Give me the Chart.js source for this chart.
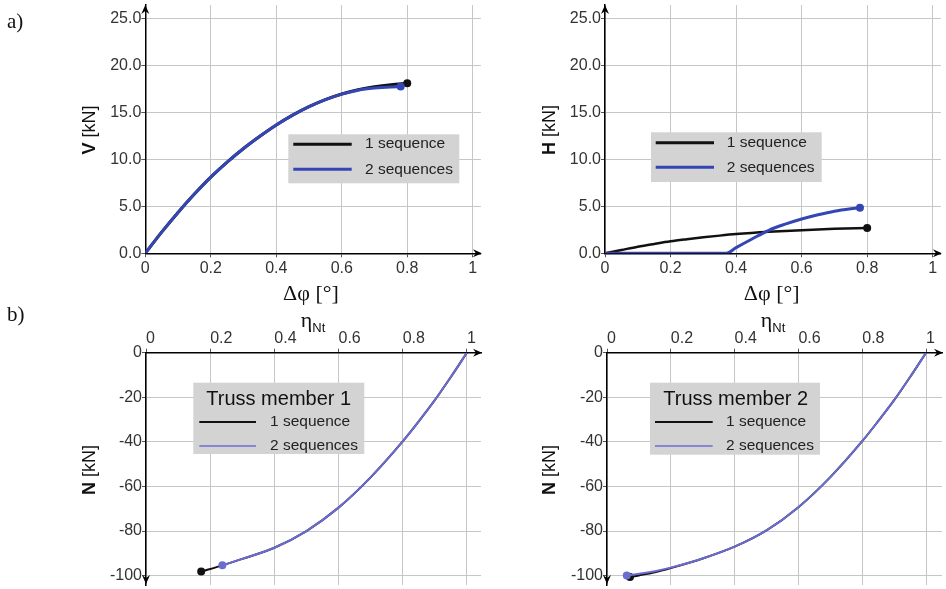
<!DOCTYPE html>
<html>
<head>
<meta charset="utf-8">
<title>Truss joint response</title>
<script src="https://cdn.jsdelivr.net/npm/chart.js"></script>
<style>
  body { margin: 0; background: #fff; width: 946px; height: 589px; position: relative; overflow: hidden; }
  canvas { position: absolute; }
</style>
</head>
<body>
<canvas id="chartV" width="486" height="310" style="left:0;top:0"></canvas>
<canvas id="chartH" width="460" height="310" style="left:486px;top:0"></canvas>
<canvas id="chartN1" width="486" height="289" style="left:0;top:300px"></canvas>
<canvas id="chartN2" width="460" height="289" style="left:486px;top:300px"></canvas>
<script>
// tick labels
var rotTicks = [0, 0.2, 0.4, 0.6, 0.8, 1];
var forceTicks = [0, 5, 10, 15, 20, 25];
var axialTicks = [0, -20, -40, -60, -80, -100];

// a) vertical reaction V vs rotation
var phiV1 = [0, 0.05, 0.1, 0.15, 0.2, 0.25, 0.3, 0.35, 0.4, 0.45, 0.5, 0.55, 0.6, 0.65, 0.7, 0.75, 0.8];
var vSeq1 = [0, 2.25, 4.35, 6.3, 8.1, 9.7, 11.15, 12.45, 13.65, 14.7, 15.6, 16.35, 16.95, 17.4, 17.72, 17.94, 18.08];
var phiV2 = [0, 0.05, 0.1, 0.15, 0.2, 0.25, 0.3, 0.35, 0.4, 0.45, 0.5, 0.55, 0.6, 0.65, 0.7, 0.75, 0.78];
var vSeq2 = [0, 2.25, 4.35, 6.3, 8.1, 9.7, 11.15, 12.45, 13.65, 14.7, 15.6, 16.35, 16.93, 17.35, 17.58, 17.7, 17.73];

// a) horizontal reaction H vs rotation
var phiH1 = [0, 0.05, 0.1, 0.15, 0.2, 0.25, 0.3, 0.35, 0.4, 0.5, 0.6, 0.7, 0.8];
var hSeq1 = [0, 0.35, 0.7, 1.0, 1.28, 1.5, 1.7, 1.88, 2.04, 2.28, 2.46, 2.6, 2.7];
var phiH2 = [0, 0.1, 0.2, 0.3, 0.37, 0.4, 0.45, 0.5, 0.55, 0.6, 0.65, 0.7, 0.75, 0.778];
var hSeq2 = [0, 0, 0, 0, 0, 0.6, 1.55, 2.45, 3.1, 3.65, 4.1, 4.48, 4.74, 4.85];

// b) axial force in truss member 1 vs utilisation
var etaA1 = [0.172, 0.238, 0.3, 0.4, 0.5, 0.6, 0.7, 0.8, 0.85, 0.9, 0.95, 1];
var nA1 = [-98.2, -95.4, -92.5, -87.5, -80, -69.5, -55.9, -39.8, -30.8, -21.3, -10.9, 0];
var etaA2 = [0.238, 0.3, 0.4, 0.5, 0.6, 0.7, 0.8, 0.85, 0.9, 0.95, 1];
var nA2 = [-95.3, -92.5, -87.5, -80, -69.5, -55.9, -39.8, -30.8, -21.3, -10.9, 0];

// b) axial force in truss member 2 vs utilisation
var etaB1 = [0.072, 0.1, 0.15, 0.2, 0.3, 0.4, 0.5, 0.6, 0.7, 0.8, 0.85, 0.9, 0.95, 1];
var nB1 = [-100.6, -99.9, -98.5, -96.6, -92.3, -87, -79.7, -69.3, -55.8, -39.7, -30.7, -21.3, -10.9, 0];
var etaB2 = [0.062, 0.1, 0.15, 0.2, 0.3, 0.4, 0.5, 0.6, 0.7, 0.8, 0.85, 0.9, 0.95, 1];
var nB2 = [-99.9, -99.2, -98, -96.4, -92.3, -87, -79.7, -69.3, -55.8, -39.7, -30.7, -21.3, -10.9, 0];

var seriesNames = ['1 sequence', '2 sequences'];

var SANS = '"Liberation Sans", Arial, sans-serif';
var SERIF = '"Liberation Serif", "Times New Roman", serif';
var GRID = '#c6c6c6';

function pairs(xs, ys) {
  return xs.map(function (x, i) { return { x: x, y: ys[i] }; });
}

function arrow(ctx, x, y, dir) {
  // dir: 'up', 'down', 'right'
  var L = 9, W = 4;
  ctx.beginPath();
  if (dir === 'up') {
    ctx.moveTo(x, y); ctx.lineTo(x - W, y + L); ctx.lineTo(x, y + L - 3); ctx.lineTo(x + W, y + L);
  } else if (dir === 'down') {
    ctx.moveTo(x, y); ctx.lineTo(x - W, y - L); ctx.lineTo(x, y - L + 3); ctx.lineTo(x + W, y - L);
  } else {
    ctx.moveTo(x, y); ctx.lineTo(x - L, y - W); ctx.lineTo(x - L + 3, y); ctx.lineTo(x - L, y + W);
  }
  ctx.closePath();
  ctx.fill();
}

// arrows, legend box, axis titles and panel letters
var decorations = {
  id: 'decorations',
  afterDraw: function (chart, args, o) {
    var ctx = chart.ctx, a = chart.chartArea;
    ctx.save();
    ctx.fillStyle = '#000';
    if (o.xOnTop) {
      arrow(ctx, a.right + 1, a.top, 'right');
      arrow(ctx, a.left, a.bottom - 1, 'down');
    } else {
      arrow(ctx, a.right + 1, a.bottom, 'right');
      arrow(ctx, a.left, a.top, 'up');
    }

    // legend
    var lg = o.legend;
    ctx.fillStyle = '#d3d3d3';
    ctx.fillRect(lg.x, lg.y, lg.w, lg.h);
    if (lg.title) {
      ctx.fillStyle = '#111';
      ctx.font = '20px ' + SANS;
      ctx.textAlign = 'center';
      ctx.textBaseline = 'middle';
      ctx.fillText(lg.title, lg.titleX, lg.titleY);
    }
    chart.data.datasets.forEach(function (ds, i) {
      var y = lg.rows[i];
      ctx.strokeStyle = ds.borderColor;
      ctx.lineWidth = lg.widths[i];
      ctx.beginPath();
      ctx.moveTo(lg.x0, y);
      ctx.lineTo(lg.x1, y);
      ctx.stroke();
      ctx.fillStyle = '#222';
      ctx.font = '15.5px ' + SANS;
      ctx.textAlign = 'left';
      ctx.textBaseline = 'middle';
      ctx.fillText(ds.label, lg.textX, y);
    });

    // y title: bold symbol followed by unit
    var yt = o.yTitle;
    ctx.translate(yt.x, yt.y);
    ctx.rotate(-Math.PI / 2);
    ctx.fillStyle = '#111';
    ctx.textBaseline = 'middle';
    ctx.textAlign = 'left';
    ctx.font = 'bold 18px ' + SANS;
    var w1 = ctx.measureText(yt.sym).width;
    ctx.font = '18px ' + SANS;
    var w2 = ctx.measureText(' [kN]').width;
    var sx = -(w1 + w2) / 2;
    ctx.font = 'bold 18px ' + SANS;
    ctx.fillText(yt.sym, sx, 0);
    ctx.font = '18px ' + SANS;
    ctx.fillText(' [kN]', sx + w1, 0);
    ctx.setTransform(1, 0, 0, 1, 0, 0);

    // x title
    var xt = o.xTitle;
    ctx.fillStyle = '#111';
    ctx.textBaseline = 'alphabetic';
    if (xt.sub) {
      ctx.font = '22px ' + SERIF;
      var we = ctx.measureText(xt.text).width;
      ctx.font = '13px ' + SANS;
      var ws = ctx.measureText(xt.sub).width;
      var bx = xt.x - (we + ws) / 2;
      ctx.font = '22px ' + SERIF;
      ctx.textAlign = 'left';
      ctx.fillText(xt.text, bx, xt.y);
      ctx.font = '13px ' + SANS;
      ctx.fillText(xt.sub, bx + we, xt.y + 5);
    } else {
      ctx.font = '22px ' + SERIF;
      ctx.textAlign = 'center';
      ctx.fillText(xt.text, xt.x, xt.y);
    }

    if (o.letter) {
      ctx.font = '21px ' + SERIF;
      ctx.textAlign = 'left';
      ctx.fillText(o.letter.text, o.letter.x, o.letter.y);
    }
    ctx.restore();
  }
};

function fixedTicks(values) {
  return function (scale) {
    scale.ticks = values.map(function (v) { return { value: v }; });
  };
}

function makePanel(id, p) {
  var onTop = !!p.deco.xOnTop;
  var dotAt = function (ctx) {
    var n = ctx.dataset.data.length;
    var idx = onTop ? 0 : n - 1;
    return ctx.dataIndex === idx ? p.dotR : 0;
  };
  var tickFont = { family: SANS, size: 16 };
  return new Chart(document.getElementById(id), {
    type: 'line',
    data: {
      datasets: [
        {
          label: seriesNames[0], data: pairs(p.x1, p.y1),
          borderColor: '#111', backgroundColor: '#111', borderWidth: p.w[0],
          cubicInterpolationMode: 'monotone', pointRadius: dotAt, pointBorderWidth: 0, order: 2
        },
        {
          label: seriesNames[1], data: pairs(p.x2, p.y2),
          borderColor: p.blue, backgroundColor: p.blue, borderWidth: p.w[1],
          cubicInterpolationMode: 'monotone', pointRadius: dotAt, pointBorderWidth: 0, order: 1
        }
      ]
    },
    options: {
      responsive: false,
      animation: false,
      events: [],
      layout: { padding: p.pad },
      scales: {
        x: {
          type: 'linear', position: onTop ? 'top' : 'bottom',
          min: 0, max: p.xMax,
          afterBuildTicks: fixedTicks(rotTicks),
          afterFit: function (s) { s.height = 30; s.paddingLeft = 0; s.paddingRight = 0; },
          grid: { color: GRID, tickLength: 4, tickColor: '#555' },
          border: { color: '#000', width: 1.5 },
          ticks: {
            font: tickFont, color: '#333', padding: onTop ? 1 : 2,
            align: onTop ? 'start' : 'center', maxRotation: 0, autoSkip: false,
            callback: function (v) { return String(v); }
          }
        },
        y: {
          type: 'linear', min: p.yMin, max: p.yMax,
          afterBuildTicks: fixedTicks(p.yTicks),
          afterFit: function (s) { s.width = 80; s.paddingTop = 0; s.paddingBottom = 0; },
          grid: { color: GRID, tickLength: 4, tickColor: '#555' },
          border: { color: '#000', width: 1.5 },
          ticks: {
            font: tickFont, color: '#333', padding: 0, autoSkip: false,
            callback: p.yFmt
          }
        }
      },
      plugins: {
        legend: { display: false },
        tooltip: { enabled: false },
        decorations: p.deco
      }
    },
    plugins: [decorations]
  });
}

var oneDecimal = function (v) { return v.toFixed(1); };
var plain = function (v) { return String(v); };

makePanel('chartV', {
  x1: phiV1, y1: vSeq1, x2: phiV2, y2: vSeq2,
  blue: '#3446b4', w: [3, 3], dotR: 4,
  xMax: 1.025, yMin: 0, yMax: 26.4, yTicks: forceTicks, yFmt: oneDecimal,
  pad: { left: 65.3, right: 5.1, top: 5.1, bottom: 26.7 },
  deco: {
    xOnTop: false,
    legend: { x: 288.3, y: 134.3, w: 171, h: 49, x0: 293.3, x1: 351.7, rows: [144.2, 169.3], widths: [3, 3], textX: 365 },
    yTitle: { sym: 'V', x: 90, y: 130 },
    xTitle: { text: '\u0394\u03c6 [\u00b0]', x: 311, y: 300 },
    letter: { text: 'a)', x: 7, y: 28 }
  }
});

makePanel('chartH', {
  x1: phiH1, y1: hSeq1, x2: phiH2, y2: hSeq2,
  blue: '#3446b4', w: [2.5, 3], dotR: 4,
  xMax: 1.025, yMin: 0, yMax: 26.4, yTicks: forceTicks, yFmt: oneDecimal,
  pad: { left: 39, right: 5.1, top: 5.1, bottom: 26.7 },
  deco: {
    xOnTop: false,
    legend: { x: 165, y: 132.3, w: 170.7, h: 49.7, x0: 169.7, x1: 228, rows: [142.7, 167.3], widths: [3, 3], textX: 240.7 },
    yTitle: { sym: 'H', x: 64, y: 130 },
    xTitle: { text: '\u0394\u03c6 [\u00b0]', x: 285.7, y: 300 }
  }
});

makePanel('chartN1', {
  x1: etaA1, y1: nA1, x2: etaA2, y2: nA2,
  blue: '#6c6cd0', w: [2, 2], dotR: 4,
  xMax: 1.044, yMin: -104.2, yMax: 0, yTicks: axialTicks, yFmt: plain,
  pad: { left: 66, right: 5, top: 22.7, bottom: 1 },
  deco: {
    xOnTop: true,
    legend: { x: 193.3, y: 82.7, w: 171, h: 71.3, title: 'Truss member 1', titleX: 278.7, titleY: 99, x0: 199.3, x1: 256, rows: [122, 146], widths: [2, 1.5], textX: 270 },
    yTitle: { sym: 'N', x: 90, y: 170 },
    xTitle: { text: '\u03b7', sub: 'Nt', x: 313, y: 27 },
    letter: { text: 'b)', x: 7, y: 21 }
  }
});

makePanel('chartN2', {
  x1: etaB1, y1: nB1, x2: etaB2, y2: nB2,
  blue: '#6c6cd0', w: [2, 2], dotR: 4,
  xMax: 1.05, yMin: -104.2, yMax: 0, yTicks: axialTicks, yFmt: plain,
  pad: { left: 41, right: 3, top: 22.7, bottom: 1 },
  deco: {
    xOnTop: true,
    legend: { x: 164, y: 82.7, w: 170, h: 72, title: 'Truss member 2', titleX: 249.7, titleY: 99, x0: 169, x1: 226.7, rows: [122, 146], widths: [2, 1.5], textX: 240 },
    yTitle: { sym: 'N', x: 64, y: 170 },
    xTitle: { text: '\u03b7', sub: 'Nt', x: 287, y: 27 }
  }
});
</script>
</body>
</html>
